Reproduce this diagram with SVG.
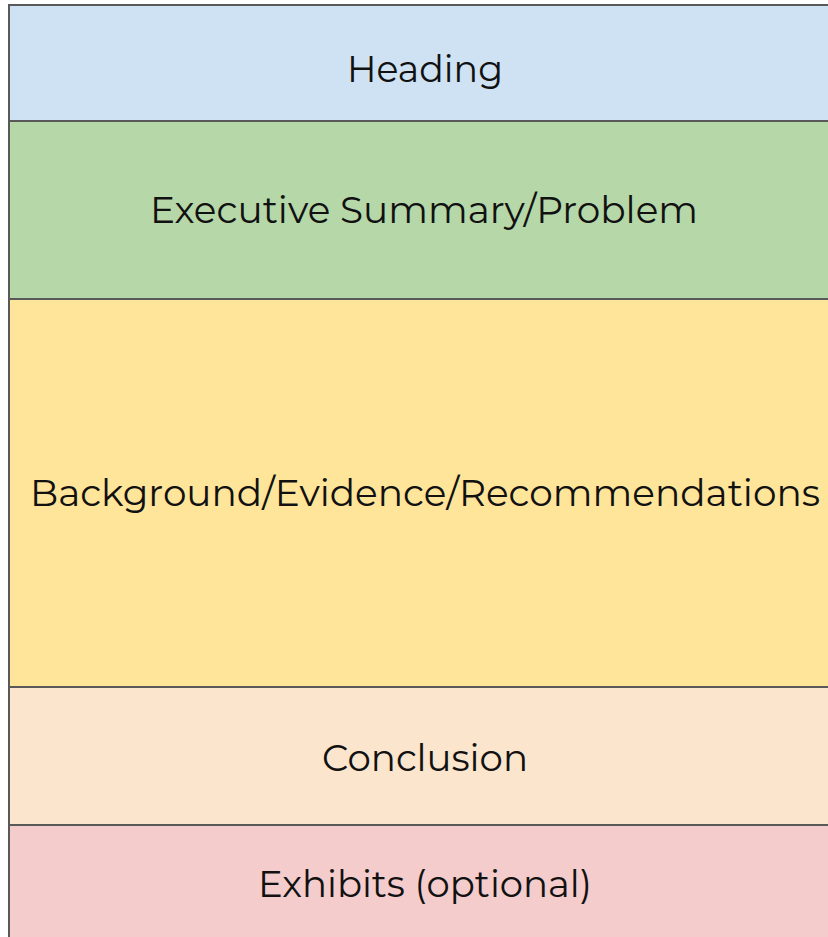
<svg xmlns="http://www.w3.org/2000/svg" width="828" height="937" viewBox="0 0 828 937">
  <style>
    .band { stroke: #595959; stroke-width: 2; }
    .label { font-family: "Montserrat", "Open Sans", "Liberation Sans", sans-serif; font-size: 37px; fill: #111111; text-anchor: middle; }
  </style>
  <rect x="0" y="0" width="828" height="937" fill="#ffffff"/>
  <!-- stacked sections of the memo layout -->
  <g id="heading">
    <rect class="band" x="9" y="5" width="840" height="116" fill="#cfe2f3"/>
    <text class="label" x="425" y="82" textLength="156" lengthAdjust="spacingAndGlyphs">Heading</text>
  </g>
  <g id="summary">
    <rect class="band" x="9" y="121" width="840" height="178" fill="#b6d7a8"/>
    <text class="label" x="424" y="223" textLength="548" lengthAdjust="spacingAndGlyphs">Executive Summary/Problem</text>
  </g>
  <g id="background">
    <rect class="band" x="9" y="299" width="840" height="388" fill="#ffe599"/>
    <text class="label" x="425" y="506" textLength="790" lengthAdjust="spacingAndGlyphs">Background/Evidence/Recommendations</text>
  </g>
  <g id="conclusion">
    <rect class="band" x="9" y="687" width="840" height="138" fill="#fce5cd"/>
    <text class="label" x="425" y="771" textLength="206" lengthAdjust="spacingAndGlyphs">Conclusion</text>
  </g>
  <g id="exhibits">
    <rect class="band" x="9" y="825" width="840" height="160" fill="#f4cccc"/>
    <text class="label" x="425" y="897" textLength="334" lengthAdjust="spacingAndGlyphs">Exhibits (optional)</text>
  </g>
  <g id="connectors"/>
</svg>
